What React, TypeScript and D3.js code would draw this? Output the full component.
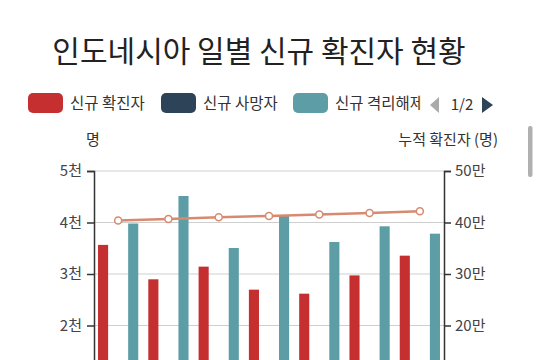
import { useEffect, useRef } from 'react';
import * as d3 from 'd3';

const width = 537;
const height = 360;

// 날짜 (x축)
const days = ['10.29', '10.30', '10.31', '11.01', '11.02', '11.03', '11.04'];
// 신규 확진자
const newCases = [3565, 2897, 3143, 2696, 2618, 2973, 3356];
// 신규 사망자
const newDeaths = [91, 89, 104, 72, 87, 118, 100];
// 신규 격리해제
const newRecovered = [3980, 4515, 3505, 4126, 3621, 3926, 3783];
// 누적 확진자
const totalCases = [404048, 406945, 410088, 412784, 415402, 418375, 421731];

// 화면에 보이는 눈금만
const leftTicks = [2000, 3000, 4000, 5000];
const rightTicks = [200000, 300000, 400000, 500000];

const seriesNames = ['신규 확진자', '신규 사망자', '신규 격리해제'];
const colors = ['#c52f30', '#2d4357', '#5c9da6'];
const lineColor = '#d88a70';
const font = '"Noto Sans CJK KR", "Noto Sans", sans-serif';

const App = () => {
  const svgRef = useRef<SVGSVGElement>(null);

  useEffect(() => {
    const svg = d3.select(svgRef.current);
    svg.selectAll('*').remove();

    const left = 94, right = 444, top = 171, bottom = 428.5;

    const x0 = d3.scaleBand().domain(days).range([left, right]).paddingInner(0.2).paddingOuter(0.08);
    const x1 = d3.scaleBand().domain(seriesNames).range([0, x0.bandwidth()]).paddingInner(0.33);
    const yL = d3.scaleLinear().domain([0, 5000]).range([bottom, top]);
    const yR = d3.scaleLinear().domain([0, 500000]).range([bottom, top]);

    // 제목
    svg.append('text')
      .attr('x', 259).attr('y', 62)
      .attr('text-anchor', 'middle')
      .attr('font-family', font).attr('font-size', 30).attr('fill', '#222')
      .text('인도네시아 일별 신규 확진자 현황');

    // 범례
    const clip = svg.append('clipPath').attr('id', 'legendClip');
    clip.append('rect').attr('x', 0).attr('y', 80).attr('width', 421).attr('height', 40);
    const legend = svg.append('g').attr('clip-path', 'url(#legendClip)');
    const legendX = [28, 161, 293];
    seriesNames.forEach((name, i) => {
      legend.append('rect')
        .attr('x', legendX[i]).attr('y', 93).attr('width', 35).attr('height', 20)
        .attr('rx', 5).attr('fill', colors[i]);
      legend.append('text')
        .attr('x', legendX[i] + 42).attr('y', 108.5)
        .attr('font-family', font).attr('font-size', 15.5).attr('fill', '#333')
        .text(name);
    });
    svg.append('path').attr('d', 'M439,97 L430,105 L439,113 Z').attr('fill', '#aaa');
    svg.append('text')
      .attr('x', 462).attr('y', 110).attr('text-anchor', 'middle')
      .attr('font-family', font).attr('font-size', 15).attr('fill', '#333')
      .text('1/2');
    svg.append('path').attr('d', 'M482,97 L493,105 L482,113 Z').attr('fill', '#2d4357');

    // 스크롤바
    svg.append('rect').attr('x', 528).attr('y', 126).attr('width', 4.5).attr('height', 51)
      .attr('rx', 2).attr('fill', '#b0b0b0');

    // 축 제목
    svg.append('text')
      .attr('x', 93).attr('y', 145).attr('text-anchor', 'middle')
      .attr('font-family', font).attr('font-size', 15).attr('fill', '#333')
      .text('명');
    svg.append('text')
      .attr('x', 498).attr('y', 145).attr('text-anchor', 'end')
      .attr('font-family', font).attr('font-size', 15).attr('fill', '#333')
      .text('누적 확진자 (명)');

    // 그리드
    svg.append('g').selectAll('line')
      .data(leftTicks)
      .enter().append('line')
      .attr('x1', left).attr('x2', right)
      .attr('y1', d => yL(d)).attr('y2', d => yL(d))
      .attr('stroke', '#cfcfcf').attr('stroke-width', 1);

    // 막대
    const groups = svg.append('g').selectAll('g')
      .data(days)
      .enter().append('g')
      .attr('transform', d => `translate(${x0(d)},0)`);
    const seriesData = [newCases, newDeaths, newRecovered];
    groups.selectAll('rect')
      .data((_, i) => seriesData.map((s, k) => ({ name: seriesNames[k], value: s[i], color: colors[k] })))
      .enter().append('rect')
      .attr('x', d => x1(d.name)!)
      .attr('width', x1.bandwidth())
      .attr('y', d => yL(d.value))
      .attr('height', d => bottom - yL(d.value))
      .attr('fill', d => d.color);

    // 누적 확진자 선
    const line = d3.line<number>()
      .x((_, i) => x0(days[i])! + x0.bandwidth() / 2)
      .y(d => yR(d));
    svg.append('path')
      .datum(totalCases)
      .attr('d', line)
      .attr('fill', 'none').attr('stroke', lineColor).attr('stroke-width', 2.5);
    svg.append('g').selectAll('circle')
      .data(totalCases)
      .enter().append('circle')
      .attr('cx', (_, i) => x0(days[i])! + x0.bandwidth() / 2)
      .attr('cy', d => yR(d))
      .attr('r', 3.5)
      .attr('fill', '#fff').attr('stroke', lineColor).attr('stroke-width', 1.5);

    // 왼쪽 축
    const axL = svg.append('g')
      .attr('transform', `translate(${left},0)`)
      .call(d3.axisLeft(yL).tickValues(leftTicks).tickSize(7).tickPadding(5)
        .tickFormat(d => `${+d / 1000}천`));
    axL.select('.domain').attr('stroke', '#333').attr('stroke-width', 1.5);
    axL.selectAll('line').attr('stroke', '#333').attr('stroke-width', 1.5);
    axL.selectAll('text').attr('font-family', font).attr('font-size', 15).attr('fill', '#444');

    // 오른쪽 축
    const axR = svg.append('g')
      .attr('transform', `translate(${right},0)`)
      .call(d3.axisRight(yR).tickValues(rightTicks).tickSize(7).tickPadding(4)
        .tickFormat(d => `${+d / 10000}만`));
    axR.select('.domain').attr('stroke', '#333').attr('stroke-width', 1.5);
    axR.selectAll('line').attr('stroke', '#333').attr('stroke-width', 1.5);
    axR.selectAll('text').attr('font-family', font).attr('font-size', 15).attr('fill', '#444');
  }, []);

  return (
    <svg
      ref={svgRef}
      width={width}
      height={height}
      style={{ position: 'absolute', left: 0, top: 0, background: '#fff', display: 'block' }}
    />
  );
};

export default App;
